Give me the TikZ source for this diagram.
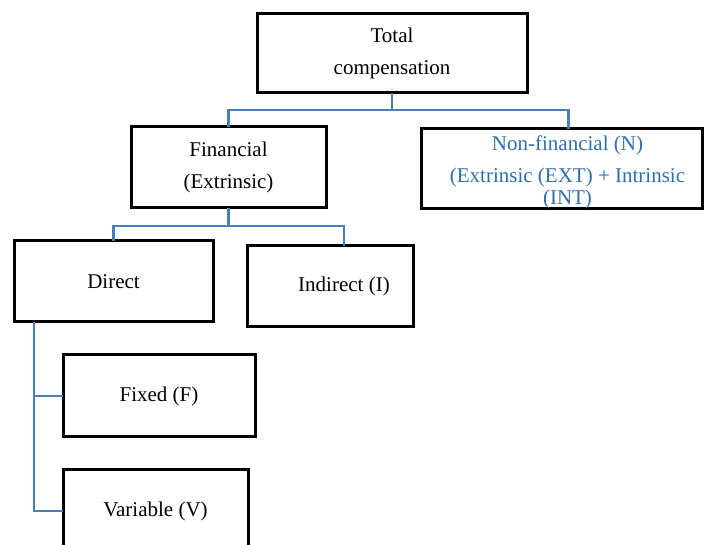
\documentclass[tikz,border=0pt]{standalone}
\usepackage{fontspec}
\setmainfont{Liberation Serif}
\usepackage{tikz}
\definecolor{linkblue}{RGB}{74,126,187}
\definecolor{textblue}{RGB}{46,110,170}

\begin{document}
\begin{tikzpicture}[x=1pt, y=-1pt,
    box/.style={draw=black, line width=3pt, inner sep=0pt, outer sep=0pt, align=center,
        font=\fontsize{21}{32}\selectfont},
    link/.style={draw=linkblue, line width=2.6pt}]
    \clip (0,0) rectangle (705,545);

    % Draw the boxes
    \node[box, minimum width=270, minimum height=79] (total) at (392,53.5) {Total\\compensation};
    \node[box, minimum width=195, minimum height=81] (fin) at (228.5,167.5) {Financial\\(Extrinsic)};
    \node[box, minimum width=281, minimum height=80,
        label={[xshift=6, yshift=-3, align=center, text=textblue, font=\fontsize{21}{32}\selectfont]center:{Non-financial (N)\\(Extrinsic (EXT) + Intrinsic\\[-10pt](INT)}}]
        (nonfin) at (561.5,169) {};
    \node[box, minimum width=199, minimum height=81] (direct) at (113.5,281.5) {Direct};
    \node[box, minimum width=166, minimum height=81,
        label={[xshift=14, font=\fontsize{21}{32}\selectfont]center:Indirect (I)}]
        (indirect) at (330,286.5) {};
    \node[box, minimum width=192, minimum height=82] (fixed) at (159,396) {Fixed (F)};
    \node[box, minimum width=185, minimum height=82] (variable) at (155.5,511) {Variable (V)};

    % Connectors
    \coordinate (j1) at (392,110);
    \coordinate (j2) at (228.5,226);
    \coordinate (trunk) at (34,322);
    \draw[link] (total.south) -- (j1) -| (fin.north);
    \draw[link] (j1) -| ([xshift=7]nonfin.north);
    \draw[link] (fin.south) -- (j2) -| (direct.north);
    \draw[link] (j2) -| ([xshift=14]indirect.north);
    \draw[link] (trunk) |- (fixed.west);
    \draw[link] (trunk) |- (variable.west);
\end{tikzpicture}
\end{document}
